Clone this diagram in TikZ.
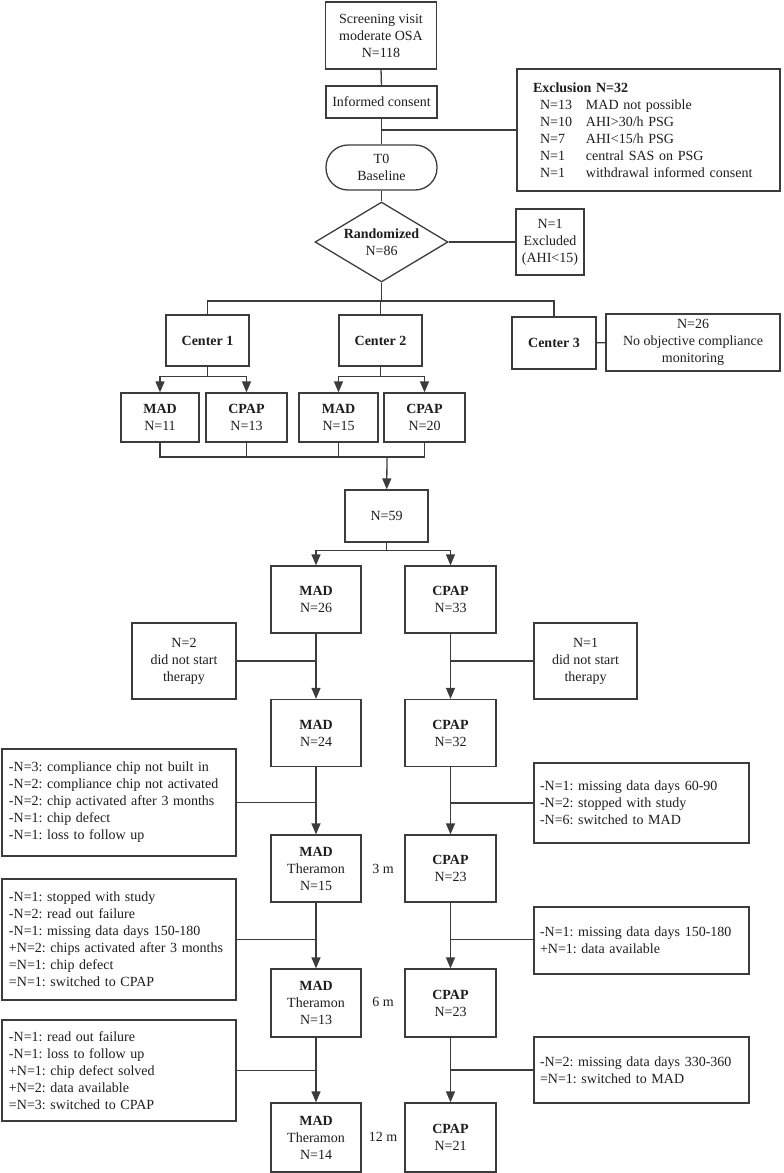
\documentclass[tikz,border=0pt]{standalone}
\usepackage{fontspec}
\setmainfont{Liberation Serif}
\frenchspacing
\usetikzlibrary{arrows.meta,shapes.geometric}
\definecolor{linegray}{RGB}{60,60,60}
\definecolor{inkgray}{RGB}{30,30,30}
\tikzset{
    flow diagram/.style = {>={Triangle[length=11pt, width=9pt]}, x=1pt, y=-1pt,
                           font=\fontsize{14}{17}\selectfont, text=inkgray},
    line/.style        = {draw=linegray, line width=1.3pt},
    block/.style       = {draw=linegray, line width=1.3pt, fill=white,
                          align=center, inner sep=0pt},
    topblock/.style    = {block, minimum width=111pt},
    decision/.style    = {block, diamond, aspect=1.66,
                          minimum width=133pt, minimum height=80pt},
    siteblock/.style   = {block, minimum width=83pt, minimum height=51pt},
    armblock/.style    = {block, minimum width=80pt, minimum height=49pt},
    colblock/.style    = {block, minimum width=90pt, minimum height=67pt},
    leftnote/.style    = {block, align=left, minimum width=234pt, text width=220pt},
    rightnote/.style   = {block, align=left, minimum width=215pt, text width=203pt},
    tlabel/.style      = {inner sep=1pt}
}

\begin{document}
\begin{tikzpicture}[flow diagram]
\useasboundingbox (0,0) rectangle (784,1173);

% ================= Screening and baseline =================
\node[topblock, minimum height=67pt] (screen) at (381,35.5)
    {Screening visit\\moderate OSA\\N=118};
\node[topblock, minimum height=32pt] (consent) at (381.5,102) {Informed consent};
\node[topblock, minimum height=45pt, rounded corners=22pt] (T0) at (381.5,167.5)
    {T0\\Baseline};
\node[block, align=left, minimum width=263pt, minimum height=122pt, text width=231pt]
    (excl) at (648.5,130)
    {\textbf{Exclusion N=32}\\
     \hspace*{7pt}\makebox[46pt][l]{N=13}MAD not possible\\
     \hspace*{7pt}\makebox[46pt][l]{N=10}AHI>30/h PSG\\
     \hspace*{7pt}\makebox[46pt][l]{N=7}AHI<15/h PSG\\
     \hspace*{7pt}\makebox[46pt][l]{N=1}central SAS on PSG\\
     \hspace*{7pt}\makebox[46pt][l]{N=1}withdrawal informed consent};
\coordinate (exclTap) at (381.5,130);
\draw[line] (screen.south) -- (consent.north);
\draw[line] (consent.south) -- (T0.north);
\draw[line] (exclTap) -- (excl);

% ================= Randomization =================
\node[decision] (rand) at (381.5,242) {\textbf{Randomized}\\N=86};
\node[block, minimum width=68pt, minimum height=66pt] (randExcl) at (550,242)
    {N=1\\Excluded\\(AHI<15)};
\draw[line] (T0.south) -- (rand.north);
\draw[line] (rand) -- (randExcl);

% ================= Centers =================
\node[siteblock] (c1) at (207.5,340.5) {\textbf{Center 1}};
\node[siteblock] (c2) at (380.5,340.5) {\textbf{Center 2}};
\node[siteblock, minimum width=84pt, minimum height=52pt] (c3) at (554,343)
    {\textbf{Center 3}};
\node[block, minimum width=174pt, minimum height=57pt] (n26) at (693,342.5)
    {N=26\\No objective compliance\\monitoring};
\coordinate (branch) at (381.5,301);
\draw[line] (rand.south) -- (branch);
\draw[line] (c1.north) -- (c1.north |- branch) -- (c3.north |- branch) -- (c3.north);
\draw[line] (c2.north) -- (c2.north |- branch);
\draw[line] (c3) -- (n26);

% ================= Arms per center =================
\node[armblock, minimum width=78pt] (mad11) at (160,417.5) {\textbf{MAD}\\N=11};
\node[armblock, minimum width=81pt] (cpap13) at (246.5,417.5) {\textbf{CPAP}\\N=13};
\node[armblock, minimum width=79pt] (mad15) at (338.5,417.5) {\textbf{MAD}\\N=15};
\node[armblock, minimum width=81pt] (cpap20) at (424.5,417.5) {\textbf{CPAP}\\N=20};
\draw[line, ->] (c1.south) -- ++(0,10) -| (mad11);
\draw[line, ->] (c1.south) ++(0,10) -| (cpap13);
\draw[line, ->] (c2.south) -- ++(0,10) -| (mad15);
\draw[line, ->] (c2.south) ++(0,10) -| (cpap20);

% ================= Pooled =================
\node[block, minimum width=83pt, minimum height=52pt] (n59) at (386.5,516) {N=59};
\coordinate (join) at (387,457);
\draw[line] (mad11.south) |- (join);
\draw[line] (cpap13.south) -- (cpap13.south |- join);
\draw[line] (mad15.south) -- (mad15.south |- join);
\draw[line] (cpap20.south) |- (join);
\draw[line, ->] (join) -- (n59);

\node[colblock] (mad26) at (316,599.5) {\textbf{MAD}\\N=26};
\node[colblock, minimum width=91pt] (cpap33) at (450.5,599.5) {\textbf{CPAP}\\N=33};
\draw[line, ->] (n59.south) -- ++(0,8) -| (mad26);
\draw[line, ->] (n59.south) ++(0,8) -| (cpap33);

% ================= Start of therapy =================
\node[block, minimum width=104pt, minimum height=76pt] (nostart1) at (184,661)
    {N=2\\did not start\\therapy};
\node[block, minimum width=103pt, minimum height=76pt] (nostart2) at (585.5,661)
    {N=1\\did not start\\therapy};
\node[colblock] (mad24) at (316,733) {\textbf{MAD}\\N=24};
\node[colblock, minimum width=91pt] (cpap32) at (450.5,733) {\textbf{CPAP}\\N=32};
\draw[line, ->] (mad26) -- (mad24);
\draw[line, ->] (cpap33) -- (cpap32);
\draw[line] (nostart1) -- (nostart1 -| mad26);
\draw[line] (nostart2) -- (nostart2 -| cpap33);

% ================= 3 months =================
\node[leftnote, minimum height=107pt] (left1) at (119,802.5)
    {-N=3: compliance chip not built in\\
     -N=2: compliance chip not activated\\
     -N=2: chip activated after 3 months\\
     -N=1: chip defect\\
     -N=1: loss to follow up};
\node[rightnote, minimum height=80pt] (right1) at (641.5,803)
    {-N=1: missing data days 60-90\\
     -N=2: stopped with study\\
     -N=6: switched to MAD};
\node[colblock] (mad3m) at (316,868.5) {\textbf{MAD}\\Theramon\\N=15};
\node[colblock, minimum width=91pt] (cpap3m) at (450.5,868.5) {\textbf{CPAP}\\N=23};
\node[tlabel] (lbl3m) at (383,869) {3 m};
\draw[line, ->] (mad24) -- (mad3m);
\draw[line, ->] (cpap32) -- (cpap3m);
\draw[line] (left1) -- (left1 -| mad24);
\draw[line] (right1) -- (right1 -| cpap32);

% ================= 6 months =================
\node[leftnote, minimum height=121pt] (left2) at (119,939.5)
    {-N=1: stopped with study\\
     -N=2: read out failure\\
     -N=1: missing data days 150-180\\
     +N=2: chips activated after 3 months\\
     =N=1: chip defect\\
     =N=1: switched to CPAP};
\node[rightnote, minimum height=67pt] (right2) at (641.5,940.5)
    {-N=1: missing data days 150-180\\
     +N=1: data available};
\node[colblock, minimum height=68pt] (mad6m) at (316,1003) {\textbf{MAD}\\Theramon\\N=13};
\node[colblock, minimum width=91pt, minimum height=68pt] (cpap6m) at (450.5,1003)
    {\textbf{CPAP}\\N=23};
\node[tlabel] (lbl6m) at (383,1002) {6 m};
\draw[line, ->] (mad3m) -- (mad6m);
\draw[line, ->] (cpap3m) -- (cpap6m);
\draw[line] (left2) -- (left2 -| mad3m);
\draw[line] (right2.west |- left2) -- (left2 -| cpap3m);

% ================= 12 months =================
\node[leftnote, minimum height=101pt] (left3) at (119,1070.5)
    {-N=1: read out failure\\
     -N=1: loss to follow up\\
     +N=1: chip defect solved\\
     +N=2: data available\\
     =N=3: switched to CPAP};
\node[rightnote, minimum height=66pt] (right3) at (641.5,1070)
    {-N=2: missing data days 330-360\\
     =N=1: switched to MAD};
\node[colblock, minimum height=69pt] (mad12m) at (316,1137.5) {\textbf{MAD}\\Theramon\\N=14};
\node[colblock, minimum width=91pt, minimum height=69pt] (cpap12m) at (450.5,1137.5)
    {\textbf{CPAP}\\N=21};
\node[tlabel] (lbl12m) at (383,1137) {12 m};
\draw[line, ->] (mad6m) -- (mad12m);
\draw[line, ->] (cpap6m) -- (cpap12m);
\draw[line] (left3) -- (left3 -| mad6m);
\draw[line] (right3) -- (right3 -| cpap6m);

\end{tikzpicture}
\end{document}
